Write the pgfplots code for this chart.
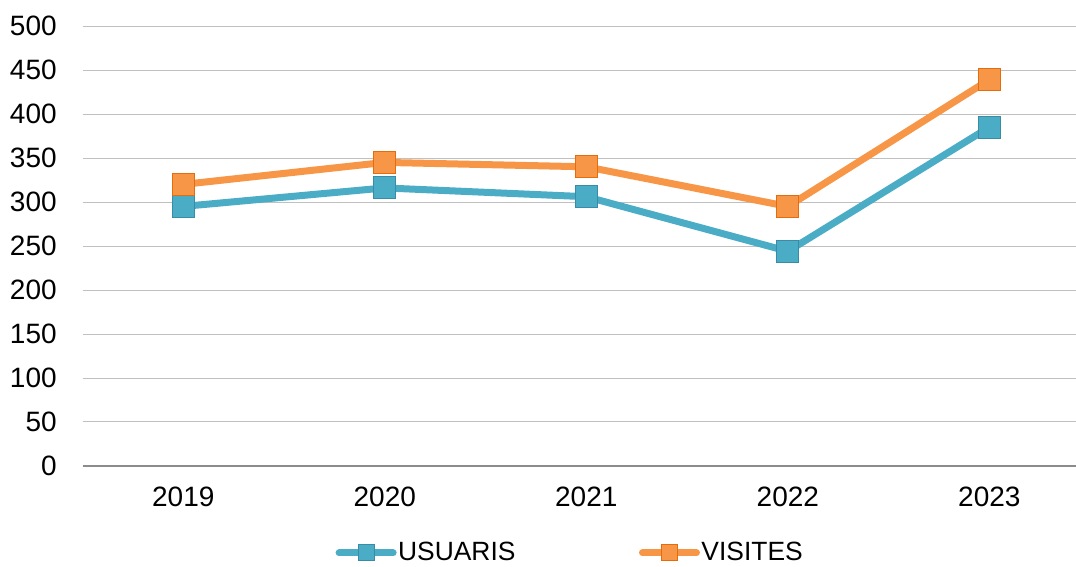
\documentclass[border=0pt]{standalone}
\usepackage{fontspec}
\setmainfont{Liberation Sans}
\usepackage{pgfplots}
\pgfplotsset{compat=1.18}
\definecolor{teal1}{HTML}{4BACC6}
\definecolor{teal2}{HTML}{3A8CA6}
\definecolor{orng1}{HTML}{F79646}
\definecolor{orng2}{HTML}{E46C0A}
\definecolor{gridc}{HTML}{C0C0C0}
\definecolor{axisc}{HTML}{8C8C8C}
\begin{document}
\begin{tikzpicture}
\begin{axis}[
  at={(0,0)}, anchor=south west,
  scale only axis,
  width=496.65pt, height=220pt,
  xmin=-0.499, xmax=4.43,
  ymin=0, ymax=500,
  ytick={0,50,...,500},
  xtick={0,1,2,3,4},
  xticklabels={2019,2020,2021,2022,2023},
  ymajorgrids,
  major grid style={gridc, line width=0.5pt},
  axis line style={draw=none},
  tick style={draw=none},
  /pgf/number format/assume math mode=true,
  ticklabel style={font=\fontsize{14}{17}\selectfont},
  yticklabel style={inner sep=0pt, anchor=east, xshift=-12.8pt},
  xticklabel style={inner sep=0pt, anchor=north, yshift=-10.5pt},
  clip=false,
  legend columns=2,
  legend style={draw=none, fill=none, at={(0.4905,-0.1977)}, anchor=center,
    font=\fontsize{13.2}{16}\selectfont,
    nodes={inner sep=0.75pt},
    /tikz/every even column/.append style={column sep=61pt}},
  legend image code/.code={\draw[mark repeat=2,mark phase=2, line cap=round, mark size=4pt] plot coordinates {(0pt,0pt) (13.5pt,0pt) (27pt,0pt)};},
]
\draw[axisc, line width=0.6pt] (axis cs:-0.499,0) -- (axis cs:4.43,0);
\addplot[teal1, line width=3.5pt, mark=square*, mark size=5.5pt,
  mark options={fill=teal1, draw=teal2, line width=0.5pt}]
  coordinates {(0,295) (1,316) (2,306) (3,244) (4,385)};
\addlegendentry{USUARIS}
\addplot[orng1, line width=3.5pt, mark=square*, mark size=5.5pt,
  mark options={fill=orng1, draw=orng2, line width=0.5pt}]
  coordinates {(0,320) (1,345) (2,340) (3,295) (4,439)};
\addlegendentry{VISITES}
\end{axis}
\pgfresetboundingbox
\path[use as bounding box] (-41.35pt,-50.5pt) rectangle (496.65pt,233pt);
\end{tikzpicture}
\end{document}
